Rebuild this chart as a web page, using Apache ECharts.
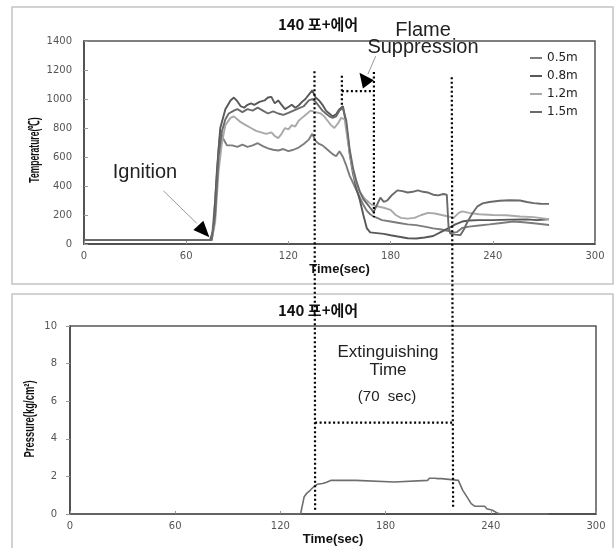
<!DOCTYPE html>
<html>
<head>
<meta charset="utf-8">
<title>140 포+에어</title>
<script src="https://cdn.jsdelivr.net/npm/echarts@6/dist/echarts.min.js"></script>
<style>html,body{margin:0;padding:0;background:#fff;}</style>
</head>
<body>
<div id="main" style="width:615px;height:548px;"></div>
<script>
// data: [time (sec), value]
var seriesNames = ['0.5m', '0.8m', '1.2m', '1.5m'];
var lineColors = ['#7c7c7c', '#585858', '#a9a9a9', '#6a6a6a'];

var temp05 = [[0,28],[75,28],[77,300],[79,650],[80,770],[82,720],[84,680],[87,680],[90,670],[93,685],[96,670],[99,680],[102,695],[105,675],[108,660],[111,650],[114,645],[117,655],[120,640],[123,650],[126,665],[129,690],[132,720],[134,760],[136,710],[138,690],[140,680],[142,660],[144,640],[146,620],[148,605],[150,640],[152,600],[154,540],[156,470],[158,420],[160,370],[162,320],[164,270],[166,230],[168,205],[170,190],[175,165],[180,155],[185,145],[190,135],[195,130],[200,120],[205,108],[210,100],[214,90],[216,80],[219,82],[222,110],[226,120],[232,128],[238,135],[245,145],[252,155],[258,150],[264,143],[268,138],[273,131]];
var temp08 = [[0,28],[74,28],[76,100],[78,500],[80,800],[83,930],[86,990],[88,1010],[90,985],[92,950],[94,940],[96,960],[98,970],[100,960],[103,980],[106,990],[108,1010],[110,1015],[112,970],[114,990],[116,960],[118,930],[120,945],[122,960],[124,940],[126,955],[128,980],[130,1000],[132,1030],[134,1060],[136,1010],[138,990],[140,960],[142,920],[144,900],[146,880],[148,895],[150,930],[152,950],[154,820],[156,620],[158,480],[160,380],[162,300],[164,200],[166,110],[168,80],[172,75],[176,70],[180,60],[185,50],[190,40],[195,38],[200,45],[205,55],[210,85],[214,110],[218,135],[222,155],[226,162],[232,165],[240,165],[250,168],[260,170],[266,165],[273,171]];
var temp12 = [[0,28],[75,28],[77,150],[79,500],[81,700],[83,820],[86,870],[88,880],[90,860],[92,840],[95,820],[98,800],[101,780],[104,770],[107,760],[110,770],[112,745],[114,730],[116,760],[118,800],[120,790],[122,820],[124,810],[126,850],[128,870],[130,890],[133,920],[136,910],[139,900],[141,880],[143,850],[145,820],[147,800],[149,830],[151,870],[153,860],[155,700],[157,560],[159,450],[161,380],[163,340],[165,310],[167,290],[169,270],[172,260],[176,250],[180,235],[183,200],[186,180],[190,175],[194,180],[198,200],[202,215],[206,210],[210,200],[214,190],[217,180],[220,215],[222,225],[226,215],[232,205],[240,200],[248,198],[256,190],[264,185],[273,171]];
var temp15 = [[0,28],[75,28],[77,200],[79,600],[81,780],[83,860],[85,900],[88,920],[90,930],[93,910],[96,930],[99,920],[102,940],[105,920],[108,900],[111,915],[114,900],[117,890],[120,905],[123,920],[126,935],[129,950],[132,990],[134,1000],[136,980],[138,950],[140,920],[142,900],[144,880],[146,870],[148,880],[150,920],[152,940],[154,850],[156,650],[158,520],[160,430],[162,360],[164,310],[166,280],[168,250],[170,220],[172,270],[174,320],[176,290],[178,300],[181,340],[184,370],[187,365],[190,355],[193,360],[196,370],[199,360],[202,355],[205,340],[208,335],[211,345],[213,340],[214,120],[215,72],[218,65],[221,62],[223,100],[225,150],[228,210],[231,260],[234,280],[238,290],[244,298],[250,302],[256,300],[260,290],[264,282],[268,278],[273,277]];
var pressure = [[0,0],[131.5,0],[133.5,0.9],[135,1.1],[137,1.26],[139,1.45],[141,1.58],[144,1.62],[146,1.68],[149,1.79],[163,1.79],[164,1.7],[185,1.7],[186,1.79],[204,1.79],[205,1.9],[208,1.9],[209,1.83],[210,1.88],[211,1.82],[212,1.88],[213,1.8],[221.5,1.79],[224,1.26],[226.5,0.9],[228.8,0.55],[231,0.41],[236.5,0.41],[237.7,0.28],[241,0.2],[243.3,0.07],[245.5,0],[273,0]];

// annotation anchors in data units
var startLine = [[135.3, 1192], [139.8, 0.2]];   // top chart point, bottom chart point
var endLine = [[215.9, 1150], [218.5, 0.25]];
var extinguishBar = [[139.8, 4.86], [218.5, 4.86]];
var flameLines = [[[151.4, 1160], [151.4, 950]], [[151.4, 1055], [170.2, 1055]], [[170.2, 1187], [170.2, 185]]];
var ignitionTip = [73.6, 46];

var chart = echarts.init(document.getElementById('main'));

function plain(v) { return String(v); }

function xAxisFor(grid, gap) {
    return {
        type: 'value', gridIndex: grid, min: 0, max: 300, interval: 60,
        splitLine: {show: false},
        axisLine: {lineStyle: {color: '#444', width: 1.5}},
        axisTick: {inside: true, length: 3, lineStyle: {color: '#999'}},
        axisLabel: {margin: 7, fontSize: 10, color: '#555', fontFamily: 'DejaVu Sans', formatter: plain},
        name: 'Time(sec)', nameLocation: 'middle', nameGap: gap,
        nameTextStyle: {fontWeight: 'bold', fontSize: 13, color: '#111', fontFamily: 'Liberation Sans'}
    };
}
function yAxisFor(grid, max, interval, margin, inside) {
    return {
        type: 'value', gridIndex: grid, min: 0, max: max, interval: interval,
        splitLine: {show: false},
        axisLine: {show: true, lineStyle: {color: '#444', width: 1.5}},
        axisTick: {show: true, inside: inside, length: 4, lineStyle: {color: '#999'}},
        axisLabel: {margin: margin, fontSize: 10, color: '#555', fontFamily: 'DejaVu Sans', formatter: plain}
    };
}

var tempData = [temp05, temp08, temp12, temp15];
var series = [];
for (var i = 0; i < seriesNames.length; i++) {
    series.push({
        name: seriesNames[i], type: 'line', xAxisIndex: 0, yAxisIndex: 0,
        data: tempData[i], showSymbol: false, animation: false,
        lineStyle: {color: lineColors[i], width: 1.9}, itemStyle: {color: lineColors[i]}
    });
}
series.push({
    name: 'pressure', type: 'line', xAxisIndex: 1, yAxisIndex: 1,
    data: pressure, showSymbol: false, animation: false,
    lineStyle: {color: '#6e6e6e', width: 1.6}
});

var titleStyle = {fontSize: 15, fontWeight: 'bold', color: '#111', fontFamily: '"Noto Sans CJK KR"'};
var option = {
    backgroundColor: '#fff',
    animation: false,
    title: [
        {text: '140 포+에어', left: 313, top: 12, textAlign: 'center', textStyle: titleStyle},
        {text: '140 포+에어', left: 313, top: 298, textAlign: 'center', textStyle: titleStyle}
    ],
    legend: {
        data: seriesNames, orient: 'vertical', left: 525, top: 46,
        icon: 'rect', itemWidth: 12, itemHeight: 2, itemGap: 4, textGap: 1,
        textStyle: {fontSize: 12, color: '#222', fontFamily: 'DejaVu Sans', lineHeight: 14}
    },
    grid: [
        {left: 84, right: 20, top: 41, height: 203, show: true, borderColor: '#555', borderWidth: 1.5},
        {left: 70, right: 19, top: 326, height: 188, show: true, borderColor: '#555', borderWidth: 1.5}
    ],
    xAxis: [xAxisFor(0, 19), xAxisFor(1, 19)],
    yAxis: [yAxisFor(0, 1400, 200, 12, true), yAxisFor(1, 10, 2, 13, false)],
    series: series
};
chart.setOption(option);

function px(g, p) { return chart.convertToPixel({gridIndex: g}, p); }
function dotted(a, b) {
    return {type: 'line', z: 20, shape: {x1: a[0], y1: a[1], x2: b[0], y2: b[1]},
            style: {stroke: '#000', lineWidth: 2.2, lineDash: [2, 2.5]}};
}
function label(text, x, y, size) {
    return {type: 'text', z: 20, style: {text: text, x: x, y: y, align: 'center', verticalAlign: 'middle',
            fontSize: size, fontFamily: 'Liberation Sans', fill: '#222'}};
}
// condensed, rotated axis title
function axisTitle(text, x, y, squeeze) {
    return {type: 'text', z: 20, x: x, y: y, rotation: Math.PI / 2, scaleX: squeeze,
            style: {text: text, x: 0, y: 0, align: 'center', verticalAlign: 'middle',
                    fontSize: 15, fontWeight: 'bold', fontFamily: 'Liberation Sans', fill: '#111'}};
}

var g = [];
// panel frames
g.push({type: 'rect', z: -1, shape: {x: 12, y: 7, width: 601, height: 277}, style: {fill: 'none', stroke: '#c4c4c4', lineWidth: 1.5}});
g.push({type: 'rect', z: -1, shape: {x: 12, y: 294, width: 601, height: 260}, style: {fill: 'none', stroke: '#c4c4c4', lineWidth: 1.5}});

g.push(axisTitle('Temperature(℃)', 35, 150, 0.57));
g.push(axisTitle('Pressure(kg/cm²)', 30, 419, 0.63));

g.push(dotted(px(0, startLine[0]), px(1, startLine[1])));
g.push(dotted(px(0, endLine[0]), px(1, endLine[1])));
g.push(dotted(px(1, extinguishBar[0]), px(1, extinguishBar[1])));
flameLines.forEach(function (l) { g.push(dotted(px(0, l[0]), px(0, l[1]))); });

// ignition arrow
var tip = px(0, ignitionTip);
g.push({type: 'line', z: 19, shape: {x1: tip[0] - 46, y1: tip[1] - 46.6, x2: tip[0] - 12.6, y2: tip[1] - 14},
        style: {stroke: '#9a9a9a', lineWidth: 1}});
g.push({type: 'polygon', z: 20, shape: {points: [[tip[0] - 16, tip[1] - 7.3], [tip[0] - 6, tip[1] - 16.6], tip]},
        style: {fill: '#000'}});

// flame suppression arrow
var fTip = px(0, [170.2, 1130]);
g.push({type: 'line', z: 19, shape: {x1: fTip[0] + 1.8, y1: fTip[1] - 24, x2: fTip[0] - 6, y2: fTip[1] - 6},
        style: {stroke: '#9a9a9a', lineWidth: 1}});
g.push({type: 'polygon', z: 20, shape: {points: [[fTip[0] - 14.4, fTip[1] - 7.4], [fTip[0], fTip[1]], [fTip[0] - 11, fTip[1] + 8.3]]},
        style: {fill: '#000'}});

g.push(label('Ignition', 145, 172, 20));
g.push(label('Flame', 423, 30, 20));
g.push(label('Suppression', 423, 47, 20));
g.push(label('Extinguishing', 388, 352, 17));
g.push(label('Time', 388, 370, 17));
g.push(label('(70  sec)', 387, 397, 15));

chart.setOption({graphic: g});
</script>
</body>
</html>
